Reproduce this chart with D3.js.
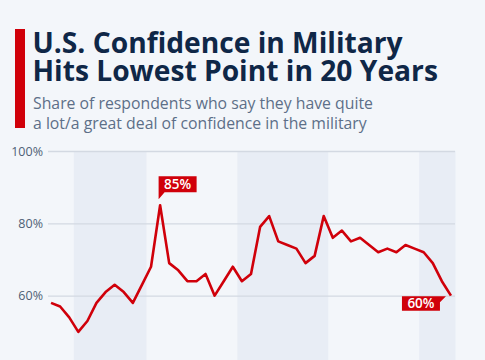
<!DOCTYPE html>
<html>
<head>
<meta charset="utf-8">
<script src="https://cdn.jsdelivr.net/npm/d3@7"></script>
<style>
  html, body { margin: 0; padding: 0; background: #f3f6fa; }
  svg { display: block; }
</style>
</head>
<body>
<svg id="chart" width="485" height="360"></svg>
<script>
const years = ["1975","1977","1979","1981","1983","1984","1985","1986","1987","1988","1989",
  "1990","1991","1992","1993","1994","1995","1996","1997","1998","1999",
  "2000","2001","2002","2003","2004","2005","2006","2007","2008","2009",
  "2010","2011","2012","2013","2014","2015","2016","2017","2018","2019",
  "2020","2021","2022","2023"];
const confidence = [58,57,54,50,53,58,61,63,61,58,63,
  68,85,69,67,64,64,66,60,64,68,
  64,66,79,82,75,74,73,69,71,82,
  76,78,75,76,74,72,73,72,74,73,
  72,69,64,60];
const yTicks = [60, 80, 100];
const shadedDecades = ["1980","2000","2020"];
const titleLines = ["U.S. Confidence in Military", "Hits Lowest Point in 20 Years"];
const subtitleLines = ["Share of respondents who say they have quite", "a lot/a great deal of confidence in the military"];
const highlights = [{year: "1991", label: "85%", pos: "above"}, {year: "2023", label: "60%", pos: "below"}];

const svg = d3.select("#chart");
svg.append("rect").attr("width", 485).attr("height", 360).attr("fill", "#f3f6fa");

// Header
svg.append("rect").attr("x", 15).attr("y", 29).attr("width", 10).attr("height", 99).attr("fill", "#d0000a");
titleLines.forEach((t, i) => svg.append("text").attr("x", 32.5).attr("y", 53 + i * 28)
  .attr("font-family", "Open Sans").attr("font-weight", 700)
  .attr("font-size", 28.2).attr("fill", "#0f2747").text(t));
subtitleLines.forEach((t, i) => svg.append("text").attr("x", 33).attr("y", 109 + i * 19.5)
  .attr("font-family", "Open Sans").attr("font-size", 15.8).attr("fill", "#5d6f88").text(t));

// Scales
const x = d3.scalePoint().domain(years).range([46.5, 455.5]).padding(0.5);
const y = d3.scaleLinear().domain([40, 100]).range([368, 151]);
const step = x.step();

// Decade bands
shadedDecades.forEach(dec => {
  const idx = years.map((yr, i) => ({yr, i})).filter(d => d.yr.slice(0, 3) === dec.slice(0, 3));
  const x0 = x(years[idx[0].i]) - step / 2;
  const x1 = x(years[idx[idx.length - 1].i]) + step / 2;
  svg.append("rect").attr("x", x0).attr("y", y(100)).attr("width", x1 - x0).attr("height", 400)
    .attr("fill", "#e8edf5");
});

// Grid + y axis
const yAxis = d3.axisLeft(y).tickValues(yTicks).tickSize(-(455 - 48)).tickFormat(d => d + "%").tickPadding(5);
const gAxis = svg.append("g").attr("transform", "translate(48,0)").call(yAxis);
gAxis.select(".domain").remove();
gAxis.selectAll(".tick line").attr("stroke", "#d3d9e2").attr("stroke-width", 1.3);
gAxis.selectAll(".tick text").attr("font-family", "Open Sans").attr("font-size", 12.5).attr("fill", "#4f5f76");

// Line
const line = d3.line().x((d, i) => x(years[i])).y(d => y(d));
svg.append("path").datum(confidence).attr("d", line).attr("fill", "none")
  .attr("stroke", "#d0000a").attr("stroke-width", 2.6).attr("stroke-linejoin", "round");

// Labels
highlights.forEach(h => {
  const i = years.indexOf(h.year);
  const px = x(h.year), py = y(confidence[i]);
  const w = 38, hgt = 16;
  let pts, tx, ty;
  if (h.pos === "above") {
    const bx = px - 1.5, by = py - 29;
    pts = [[bx, by], [bx + w, by], [bx + w, by + hgt], [bx + 6, by + hgt], [bx, by + hgt + 7], [bx, by + hgt]];
    tx = bx + w / 2; ty = by + 12.5;
  } else {
    const bx = px - 49, by = py + 0.5;
    pts = [[bx, by], [bx + w + 6, by], [bx + w, by + 6], [bx + w, by + hgt - 1.5], [bx, by + hgt - 1.5]];
    tx = bx + w / 2; ty = by + 12;
  }
  svg.append("path").attr("d", "M" + pts.map(p => p.join(",")).join("L") + "Z").attr("fill", "#d0000a");
  svg.append("text").attr("x", tx).attr("y", ty).attr("text-anchor", "middle")
    .attr("font-family", "Open Sans").attr("font-weight", 600).attr("font-size", 13.5)
    .attr("fill", "#ffffff").text(h.label);
});
</script>
</body>
</html>
